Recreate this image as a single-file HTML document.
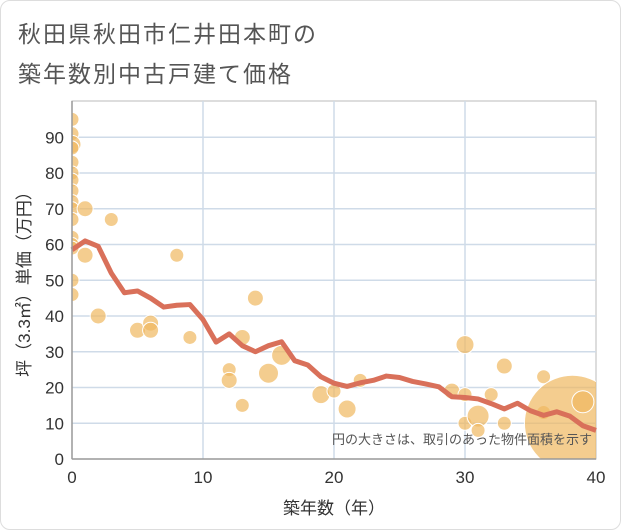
<!DOCTYPE html>
<html><head><meta charset="utf-8"><style>
body{margin:0;background:#fff;}
#wrap{position:relative;width:619px;height:528px;border:1px solid #ddd;border-radius:10px;background:#fff;font-family:"Liberation Sans","Noto Sans CJK JP",sans-serif;overflow:hidden;}
.t{position:absolute;left:17px;font-size:23px;color:#555;letter-spacing:2px;}
svg text{font-family:"Liberation Sans","Noto Sans CJK JP",sans-serif;}
</style></head><body>
<div id="wrap">
<div class="t" style="top:14px">秋田県秋田市仁井田本町の</div>
<div class="t" style="top:54px">築年数別中古戸建て価格</div>
<svg id="c" width="621" height="530" style="position:absolute;left:-1px;top:-1px"></svg>
</div>
<script>
const xTicks=[0,10,20,30,40];
const yTicks=[0,10,20,30,40,50,60,70,80,90];
const lineX=[0,1,2,3,4,5,6,7,8,9,10,11,12,13,14,15,16,17,18,19,20,21,22,23,24,25,26,27,28,29,30,31,32,33,34,35,36,37,38,39,40];
const lineY=[58.5,61,59.5,52,46.5,47,45,42.5,43,43.2,39,32.7,35,31.7,30,31.7,32.8,27.5,26.3,23,21.2,20.3,21.3,22,23.2,22.8,21.7,21,20.2,17.4,17.2,16.8,15.5,14,15.6,13.5,12.2,13.2,12,9.3,8];
const ptX=[0,0,0,0,0,0,0,0,0,0,0,0,0,0,0,0,1,1,2,3,5,6,6,8,9,12,12,13,13,14,15,16,19,20,21,22,29,30,30,30,31,31,32,33,33,36,36,38.2,39];
const ptY=[95,91,88,87,83,80,78,75,72,70,67,62,60,59,50,46,70,57,40,67,36,38,36,57,34,25,22,34,15,45,24,29,18,19,14,22,19,18,32,10,12,8,18,26,10,23,13,10,16];
const ptR=[7,7,9,7,7,7,7,7,7,7,7,7,7,7,7,7,8,8,8,7,8,8,8,7,7,7,8,8,7,8,10,10,9,7,9,7,8,7,9,7,11,7,7,8,7,7,7,48,11];
const X0=72,X1=596,Y0=459,Y1=101;
const sx=v=>X0+(v-0)/40*(X1-X0);
const sy=v=>Y0-v*3.575;
const svg=document.getElementById('c');
const NS='http://www.w3.org/2000/svg';
function mk(t,a){const e=document.createElementNS(NS,t);for(const k in a)e.setAttribute(k,a[k]);svg.appendChild(e);return e;}
let e;
e=mk('rect',{x:X0,y:Y1,width:X1-X0,height:Y0-Y1,fill:'#fff',stroke:'#bbb'});


yTicks.forEach(v=>{
 if(v>0){e=mk('line',{x1:X0,x2:X1,y1:sy(v),y2:sy(v),stroke:'#cfdbe8','stroke-width':1.5});
 
 }
 e=mk('text',{x:X0-8,y:sy(v)+6,'text-anchor':'end','font-size':17,fill:'#333'});e.textContent=v;
 
 
});
xTicks.forEach(v=>{
 if(v>0&&v<40){e=mk('line',{x1:sx(v),x2:sx(v),y1:Y1,y2:Y0,stroke:'#cfdbe8','stroke-width':1.5});
 
 }
 e=mk('text',{x:sx(v),y:Y0+24,'text-anchor':'middle','font-size':17,fill:'#333'});e.textContent=v;
 
 
});
const cp=mk('clipPath',{id:'cp'});
const cr=document.createElementNS(NS,'rect');
cr.setAttribute('x',X0);cr.setAttribute('y',Y1);cr.setAttribute('width',X1-X0);cr.setAttribute('height',Y0-Y1);
cp.appendChild(cr);
ptX.forEach((x,i)=>{
 e=mk('circle',{cx:sx(x),cy:sy(ptY[i]),r:ptR[i],fill:'#f0b860','fill-opacity':0.7,stroke:'#fff','stroke-width':1,'clip-path':'url(#cp)'});
 
 
});
e=mk('polyline',{points:lineX.map((x,i)=>sx(x)+','+sy(lineY[i])).join(' '),fill:'none',stroke:'#d9705a','stroke-width':5,'stroke-linejoin':'round'});


e=mk('line',{x1:X0,x2:X0,y1:Y1,y2:Y0,stroke:'#999','stroke-width':1.5});


e=mk('line',{x1:X0,x2:X1,y1:Y0,y2:Y0,stroke:'#999','stroke-width':1.5});


e=mk('text',{x:592,y:444,'text-anchor':'end','font-size':13,fill:'#555'});e.textContent='円の大きさは、取引のあった物件面積を示す';


e=mk('text',{x:334,y:514,'text-anchor':'middle','font-size':17,fill:'#333'});e.textContent='築年数（年）';


e=mk('text',{x:0,y:0,'text-anchor':'middle','font-size':17,fill:'#333',transform:'translate(30,280) rotate(-90)'});e.textContent='坪（3.3㎡）単価（万円）';


</script>
</body></html>
